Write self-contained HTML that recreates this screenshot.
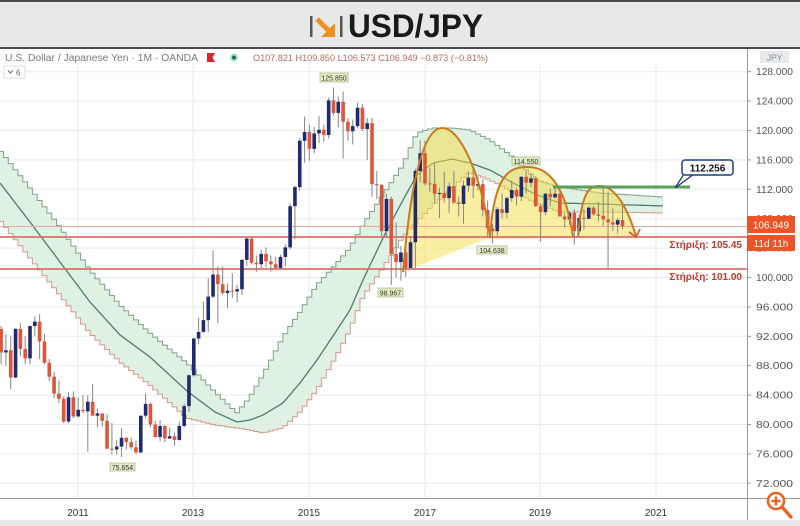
<!DOCTYPE html>
<html><head><meta charset="utf-8">
<style>
html,body{margin:0;padding:0;background:#fff;}
body{width:800px;height:526px;overflow:hidden;position:relative;font-family:"Liberation Sans",Arial,sans-serif;}
svg{position:absolute;left:0;top:0;}
</style></head><body>
<svg id="c" width="800" height="526" viewBox="0 0 800 526" xmlns="http://www.w3.org/2000/svg" font-family="Liberation Sans, Arial, sans-serif">
 <rect width="800" height="526" fill="#fff"/>
 <!-- title band -->
 <rect x="0" y="0" width="800" height="48" fill="#e8e8e8"/>
 <line x1="0" y1="1" x2="800" y2="1" stroke="#4a4a4a" stroke-width="2"/>
 <line x1="0" y1="48" x2="800" y2="48" stroke="#4a4a4a" stroke-width="2"/>
 <rect x="310" y="16" width="2.5" height="21" fill="#555"/>
 <rect x="340" y="16" width="2.5" height="21" fill="#555"/>
 <line x1="317" y1="19" x2="330" y2="32" stroke="#f0901e" stroke-width="5"/>
 <polygon points="335,23 335,37 321,37" fill="#f0901e"/>
 <text x="348" y="37" font-size="32" font-weight="bold" fill="#1a1a1a" textLength="135" lengthAdjust="spacingAndGlyphs">USD/JPY</text>
 <!-- bottom band -->
 <rect x="0" y="520" width="800" height="6" fill="#e8e8e8"/>

 <g id="grid"></g>
 <g id="band"></g>
 <!-- yellow pattern fill -->
 <path d="M403,272 C410,190 422,128 442,128 C462,128 482,180 490,236 C494,170 512,167 528,167 C545,167 565,180 573,237 L578,237 C582,185 592,186 600,186 C612,186 625,200 636,237 L486,239 Z" fill="rgba(246,222,70,0.5)"/>
 <!-- horizontal lines -->
 <line x1="0" y1="226.5" x2="747" y2="226.5" stroke="#eaa8a2" stroke-width="1"/>
 <line x1="0" y1="237" x2="747" y2="237" stroke="#d9706a" stroke-width="1.8"/>
 <line x1="0" y1="269" x2="747" y2="269" stroke="#d9706a" stroke-width="1.8"/>
 <g id="candles"></g>
 <!-- domes -->
 <g fill="none" stroke="#c77a20" stroke-width="2">
  <path d="M403,272 C410,190 422,128 442,128 C462,128 482,180 490,236"/>
  <path d="M490,238 C494,170 512,167 528,167 C545,167 565,180 573,237"/>
  <path d="M578,237 C582,185 592,186 600,186 C612,186 625,200 636,236"/>
 </g>
 <polyline points="629,232 636,237 640,229" fill="none" stroke="#e05a2a" stroke-width="1.8"/>
 <!-- green resistance -->
 <line x1="553" y1="187" x2="690" y2="187" stroke="#5aa05a" stroke-width="3"/>
 <polygon points="684,174 694,174 675,188" fill="#fff" stroke="#1f3d7a" stroke-width="1.3"/>
 <rect x="682" y="160" width="51" height="15" rx="3" fill="#fff" stroke="#1f3d7a" stroke-width="1.5"/>
 <text x="707.5" y="171.5" font-size="10" font-weight="bold" fill="#111" text-anchor="middle">112.256</text>

 <!-- small labels -->
 <g font-size="7" fill="#333" text-anchor="middle">
  <rect x="320" y="73" width="28" height="9" fill="#e4edc4" stroke="#9aa870" stroke-width="0.6"/>
  <text x="334" y="80.3">125.850</text>
  <rect x="110" y="463" width="25" height="8" fill="#e4edc4" stroke="#9aa870" stroke-width="0.6"/>
  <text x="122.5" y="469.8">75.654</text>
  <rect x="378" y="288" width="25" height="9" fill="#e4edc4" stroke="#9aa870" stroke-width="0.6"/>
  <text x="390.5" y="295.3">98.967</text>
  <rect x="477" y="246" width="30" height="8" fill="#e4edc4" stroke="#9aa870" stroke-width="0.6"/>
  <text x="492" y="252.8">104.638</text>
  <rect x="512" y="157" width="28" height="8" fill="#e4edc4" stroke="#9aa870" stroke-width="0.6"/>
  <text x="526" y="163.8">114.550</text>
 </g>

 <!-- support labels -->
 <text x="742" y="248" font-size="10" font-weight="bold" fill="#c0392b" text-anchor="end">Στήριξη: 105.45</text>
 <text x="742" y="280" font-size="10" font-weight="bold" fill="#c0392b" text-anchor="end">Στήριξη: 101.00</text>

 <!-- info line -->
 <text x="5" y="61" font-size="10" fill="#7a7a7a" textLength="193" lengthAdjust="spacingAndGlyphs">U.S. Dollar / Japanese Yen · 1M · OANDA</text>
 <path d="M207,53 h8 l-2.5,4.5 l2.5,4.5 h-8 z" fill="#d8262e"/>
 <circle cx="234" cy="57.5" r="3" fill="#1d6b5e" stroke="#a9e0d4" stroke-width="2"/>
 <text x="253" y="61" font-size="9" fill="#b86a5e" textLength="235" lengthAdjust="spacingAndGlyphs">O107.821 H109.850 L106.573 C106.949 −0.873 (−0.81%)</text>
 <rect x="4" y="66" width="21" height="12" fill="#fff" stroke="#dcdcdc" stroke-width="1"/>
 <polyline points="8,70.5 10.5,73 13,70.5" fill="none" stroke="#666" stroke-width="1"/>
 <text x="16" y="75.5" font-size="8" fill="#666">6</text>

 <!-- axes -->
 <line x1="747.5" y1="49" x2="747.5" y2="520" stroke="#9a9a9a" stroke-width="1"/>
 <line x1="0" y1="498.5" x2="800" y2="498.5" stroke="#9a9a9a" stroke-width="1"/>
 <g id="ylab" font-size="10" fill="#555"></g>
 <rect x="760" y="51" width="29" height="12" fill="#e6eaef"/>
 <text x="774.5" y="60.5" font-size="8.5" fill="#888" text-anchor="middle">JPY</text>
 <g font-size="10" fill="#333" text-anchor="middle">
  <text x="78" y="516">2011</text>
  <text x="193" y="516">2013</text>
  <text x="309" y="516">2015</text>
  <text x="425" y="516">2017</text>
  <text x="540" y="516">2019</text>
  <text x="656" y="516">2021</text>
 </g>
 <!-- price tags -->
 <rect x="747" y="216" width="48" height="17" fill="#ec5428"/>
 <text x="771" y="228.5" font-size="10" fill="#fff" text-anchor="middle">106.949</text>
 <rect x="747" y="235" width="48" height="16" fill="#ec5428"/>
 <text x="771" y="247" font-size="10" fill="#fff" text-anchor="middle">11d 11h</text>
 <!-- zoom icon -->
 <circle cx="776" cy="501" r="8" fill="#fff" stroke="#e8632a" stroke-width="2.6"/>
 <line x1="782" y1="507" x2="791" y2="517" stroke="#e8632a" stroke-width="3.5" stroke-linecap="round"/>
 <line x1="776" y1="496.5" x2="776" y2="505.5" stroke="#e8632a" stroke-width="2.5"/>
 <line x1="771.5" y1="501" x2="780.5" y2="501" stroke="#e8632a" stroke-width="2.5"/>
</svg>
<script>
(function(){
const NS="http://www.w3.org/2000/svg";
function el(tag,a,p){const e=document.createElementNS(NS,tag);for(const k in a)e.setAttribute(k,a[k]);p.appendChild(e);return e;}
const Y=p=>71.7+(128-p)*7.35;
const X=m=>425+m*4.817;
// grid
const g=document.getElementById('grid');
for(let p=128;p>=72;p-=4){const y=Y(p);el('line',{x1:0,y1:y,x2:747,y2:y,stroke:'#e8ebee','stroke-width':1},g);}
[78,193,309,425,540,656].forEach(x=>el('line',{x1:x,y1:64,x2:x,y2:498,stroke:'#e8ebee','stroke-width':1},g));
// y labels
const yl=document.getElementById('ylab');
for(let p=128;p>=72;p-=4){const y=Y(p);
 el('line',{x1:747,y1:y,x2:751,y2:y,stroke:'#999','stroke-width':1},yl);
 const t=el('text',{x:756,y:y+3.5,textLength:37,lengthAdjust:'spacingAndGlyphs'},yl);t.textContent=p.toFixed(3);}
// band
const B=[[0,150,183,220],[30,188,222,258],[60,227,262,295],[90,270,302,333],[120,305,335,362],[150,333,357,385],[187,363,391,418],[215,392,412,425],[237,413,422,428],[250,397,420,430],[263,375,415,433],[283,337,403,428],[300,312,383,412],[317,285,360,390],[337,263,330,355],[350,248,310,330],[363,225,280,297],[383,195,238,268],[403,165,200,237],[417,133,175,222],[433,128,163,205],[452,128,159,188],[470,130,163,172],[490,140,170,180],[513,157,183,192],[537,180,195,203],[560,187,203,212],[600,193,204,212],[663,197,206,213]];
function iv(x,i){for(let k=0;k<B.length-1;k++){if(x<=B[k+1][0]){const t=(x-B[k][0])/(B[k+1][0]-B[k][0]);return B[k][i]+t*(B[k+1][i]-B[k][i]);}}return B[B.length-1][i];}
const bg=document.getElementById('band');
let up=[],lo=[];
for(let m=-89;m<=50;m++){let xc=X(m);let x0=Math.max(0,xc-2.4),x1=Math.min(663,xc+2.4);if(x1<=0||x0>=663)continue;
 const xs=Math.min(663,Math.max(0,xc));
 const u=iv(xs,1),l=iv(xs,3);up.push([x0,u],[x1,u]);lo.push([x0,l],[x1,l]);}
const poly=up.concat(lo.slice().reverse()).map(p=>p[0].toFixed(1)+','+p[1].toFixed(1)).join(' ');
el('polygon',{points:poly,fill:'#d9eedd','fill-opacity':0.85},bg);
el('polyline',{points:up.map(p=>p[0].toFixed(1)+','+p[1].toFixed(1)).join(' '),fill:'none',stroke:'#849f8c','stroke-width':1},bg);
el('polyline',{points:lo.map(p=>p[0].toFixed(1)+','+p[1].toFixed(1)).join(' '),fill:'none',stroke:'#d39a8a','stroke-width':1},bg);
let mid=[];for(let x=0;x<=663;x+=3){mid.push(x+','+iv(x,2).toFixed(1));}
el('polyline',{points:mid.join(' '),fill:'none',stroke:'#4f7a72','stroke-width':1.3},bg);
// candles
const D=[
[93.0,93.4,88.2,89.8],[89.8,92.3,88.0,90.1],[90.1,92.0,84.8,86.4],[86.4,93.1,86.3,93.0],
[93.0,93.8,89.3,90.3],[90.3,92.0,88.2,89.0],[89.0,93.5,88.2,93.4],[93.4,94.7,92.0,94.0],[94.0,95.0,88.9,91.3],[91.3,92.3,88.2,88.4],[88.4,88.9,85.9,86.5],[86.5,87.2,83.6,84.2],[84.2,86.0,82.9,83.5],[83.5,83.8,80.2,80.4],[80.4,84.4,80.2,83.7],[83.7,84.5,80.9,81.1],
[81.1,83.7,81.0,82.0],[82.0,84.0,81.6,81.8],[81.8,84.0,76.3,83.1],[83.1,85.5,81.2,81.2],[81.2,82.2,79.6,81.5],[81.5,81.5,79.7,80.5],[80.5,81.4,76.7,76.7],[76.7,80.2,75.9,76.6],[76.6,77.9,75.9,77.0],[77.0,79.5,75.56,78.2],[78.2,78.3,76.6,77.6],[77.6,78.2,76.6,76.9],
[76.9,77.8,76.0,76.2],[76.2,81.2,76.1,81.2],[81.2,84.2,80.9,82.8],[82.8,83.0,79.6,80.0],[80.0,80.5,78.2,78.3],[78.3,80.6,77.7,79.8],[79.8,79.9,77.6,78.1],[78.1,79.6,78.0,78.4],[78.4,78.9,77.1,77.9],[77.9,80.4,77.8,79.8],[79.8,82.8,79.6,82.5],[82.5,86.8,81.7,86.7],
[86.7,91.8,86.5,91.7],[91.7,94.5,90.9,92.6],[92.6,96.7,92.5,94.2],[94.2,99.9,92.6,97.4],[97.4,103.7,97.2,100.4],[100.4,101.5,93.8,99.1],[99.1,101.5,97.6,97.9],[97.9,99.2,95.8,98.2],[98.2,100.6,97.2,98.1],[98.1,99.0,96.6,98.4],[98.4,102.5,97.6,102.4],[102.4,105.4,101.6,105.3],
[105.3,105.4,101.8,102.0],[102.0,103.0,100.8,101.8],[101.8,103.8,101.2,103.2],[103.2,104.1,101.4,102.2],[102.2,103.0,100.8,101.8],[101.8,102.8,101.1,101.3],[101.3,103.1,101.1,102.8],[102.8,104.5,101.5,104.1],[104.1,110.1,103.8,109.7],[109.7,112.5,105.2,112.3],[112.3,119.0,111.8,118.6],[118.6,121.9,115.6,119.8],
[119.8,120.8,115.9,117.5],[117.5,120.5,116.9,119.6],[119.6,122.0,118.3,120.1],[120.1,120.8,118.5,119.4],[119.4,124.5,118.9,124.1],[124.1,125.85,122.0,122.4],[122.4,124.6,120.4,123.9],[123.9,125.3,116.2,121.2],[121.2,121.7,118.6,119.9],[119.9,121.5,118.1,120.6],[120.6,123.8,120.3,123.1],[123.1,123.6,119.9,120.2],
[120.2,121.7,115.97,121.0],[121.0,121.7,110.97,112.7],[112.7,114.5,110.7,112.6],[112.6,112.7,105.55,106.3],[106.3,111.4,105.5,110.7],[110.7,111.0,98.97,103.2],[103.2,107.5,99.98,102.1],[102.1,104.3,99.55,103.4],[103.4,104.3,100.1,101.3],[101.3,105.5,101.2,104.8],[104.8,114.8,101.2,114.5],[114.5,118.66,112.9,116.9],
[116.9,118.6,112.5,112.8],[112.8,114.95,111.6,112.75],[112.75,115.5,110.1,111.4],[111.4,112.2,108.1,111.5],[111.5,114.4,110.2,110.8],[110.8,112.9,108.8,112.4],[112.4,114.5,110.0,110.2],[110.2,111.0,108.3,110.0],[110.0,113.2,107.3,112.5],[112.5,114.45,111.6,113.6],[113.6,114.7,110.8,112.5],[112.5,113.75,111.9,112.7],
[112.7,113.4,108.3,109.2],[109.2,110.5,105.55,106.7],[106.7,107.3,104.63,106.3],[106.3,109.6,105.7,109.3],[109.3,111.4,108.1,108.8],[108.8,111.0,108.1,110.8],[110.8,113.2,110.3,111.9],[111.9,112.2,109.8,111.0],[111.0,113.8,110.4,113.7],[113.7,114.55,111.4,112.9],[112.9,114.2,112.3,113.5],[113.5,113.8,109.6,109.7],
[109.7,110.0,104.87,108.9],[108.9,111.5,108.5,111.4],[111.4,112.1,109.7,110.9],[110.9,112.4,110.8,111.4],[111.4,112.0,108.3,108.3],[108.3,108.8,106.8,107.9],[107.9,109.0,107.2,108.8],[108.8,109.3,104.46,106.3],[106.3,108.5,105.9,108.1],[108.1,109.3,106.5,108.0],[108.0,109.7,107.9,109.5],[109.5,109.7,108.4,108.6],
[108.6,110.3,107.65,108.4],[108.4,112.2,107.0,107.9],[107.9,111.7,101.18,107.5],[107.5,109.4,106.35,107.2],[107.2,108.1,105.99,107.8],[107.821,109.85,106.573,106.949]
];
const cg=document.getElementById('candles');
D.forEach((d,i)=>{const m=-88+i;const x=X(m);const [o,h,l,c]=d;const bull=c>=o;
 const col=bull?'#1f2a70':'#e0553a';
 el('line',{x1:x,y1:Y(h),x2:x,y2:Y(l),stroke:'#858585','stroke-width':1},cg);
 const yt=Y(Math.max(o,c)),yb=Y(Math.min(o,c));
 el('rect',{x:x-1.8,y:yt,width:3.6,height:Math.max(1,yb-yt),fill:col},cg);
});
})();
</script>
</body></html>
